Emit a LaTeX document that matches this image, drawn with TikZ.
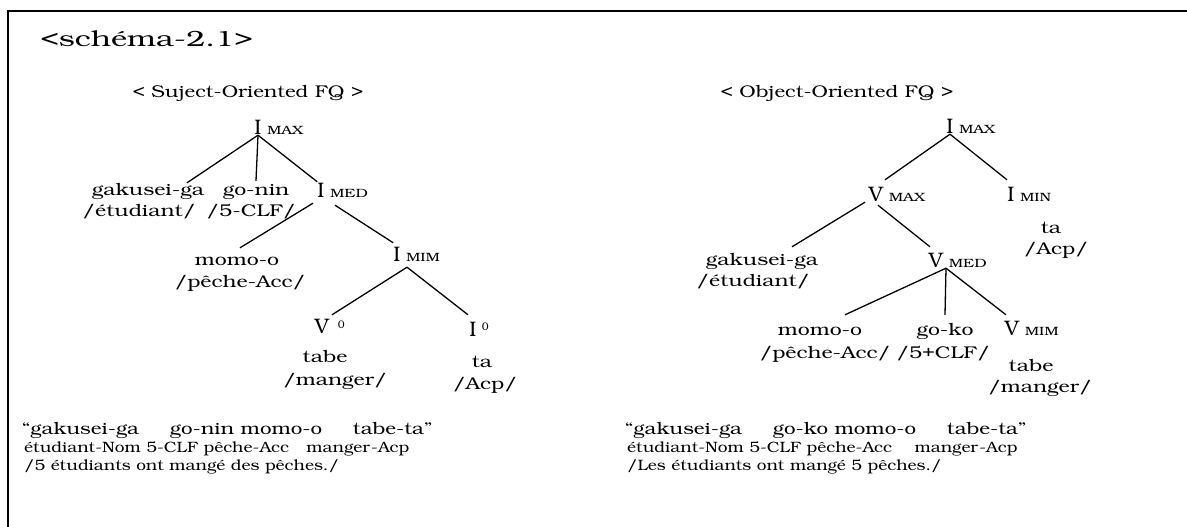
\documentclass[tikz,border=0pt]{standalone}
\usepackage[T1]{fontenc}
\usepackage{bookman}
\usetikzlibrary{calc}

\tikzset{
	cat/.style={inner sep=0pt, anchor=base, text height=15pt, text depth=1pt, font=\fontsize{21}{23}\selectfont},
	subcat/.style={inner sep=0pt, anchor=base west, xscale=1.3, font=\fontsize{12}{14}\selectfont},
	supzero/.style={inner sep=0pt, anchor=base west, font=\fontsize{11}{13}\selectfont},
	word/.style={inner sep=0pt, anchor=base, xscale=1.25, text height=12pt, text depth=4pt, font=\fontsize{17}{19}\selectfont},
	heading/.style={inner sep=0pt, anchor=base, xscale=1.2, font=\fontsize{17}{19}\selectfont},
	sentence/.style={inner sep=0pt, anchor=base west, xscale=1.21, font=\fontsize{17}{19}\selectfont},
	glossline/.style={inner sep=0pt, anchor=base west, xscale=1.15, font=\fontsize{15}{17}\selectfont},
	branch/.style={line width=1.3pt},
}
\def\category(#1)(#2)#3#4{\node[cat] (#1) at (#2) {#3}; \node[subcat] (#1-s) at ([xshift=5pt]#1.base east) {#4};}

\begin{document}
\begin{tikzpicture}[x=1pt, y=-1pt]
			%%%%% START %%%%%
			\useasboundingbox (0, 0) rectangle (1187, 527);
			\draw[line width=2pt] (8, 527) -- (8, 11) -- (1187, 11);
			
			\node[inner sep=0pt, anchor=base west, xscale=1.4, font=\fontsize{22}{24}\selectfont] (schema) at (40, 47) {<schéma-2.1>};
			
			%% subject-oriented tree
			\node[heading] (titleL) at (248, 98) {< Suject-Oriented FQ >};
			
			\category(imaxL)(258, 134){I}{MAX}
			\node[word] (gakuL) at (148, 195) {gakusei-ga};
			\node[word] (gakuLg) at (139, 216) {/étudiant/};
			\node[word] (goninL) at (256, 195) {go-nin};
			\node[word] (goninLg) at (251, 216) {/5-CLF/};
			\category(imedL)(321, 197){I}{MED}
			\node[word] (momoL) at (237, 265) {momo-o};
			\node[word] (momoLg) at (240, 287) {/pêche-Acc/};
			\category(imimL)(397, 261){I}{MIM}
			\node[cat] (v0L) at (322, 333) {V};
			\node[supzero] (v0Ls) at ([xshift=8pt, yshift=5pt]v0L.base east) {0};
			\node[word] (tabeL) at (325, 362) {tabe};
			\node[word] (tabeLg) at (335, 385) {/manger/};
			\node[cat] (i0L) at (473, 336) {I};
			\node[supzero] (i0Ls) at ([xshift=5pt, yshift=6pt]i0L.base east) {0};
			\node[word] (taL) at (482, 367) {ta};
			\node[word] (taLg) at (485, 389) {/Acp/};
			
			\draw[branch] (imaxL.south) -- ([xshift=39pt]gakuL.north);
			\draw[branch] (imaxL.south) -- ([yshift=2pt]goninL.north);
			\draw[branch] (imaxL.south) -- (imedL.north west);
			\draw[branch] ([xshift=-8pt, yshift=-5pt]imedL.south) -- ([xshift=3pt, yshift=5pt]momoL.north);
			\draw[branch] ([xshift=14pt, yshift=-7pt]imedL.south) -- ([yshift=3pt]imimL.north west);
			\draw[branch] ([xshift=10pt, yshift=-5pt]imimL.south) -- ([xshift=10pt, yshift=3pt]v0L.north);
			\draw[branch] ([xshift=10pt, yshift=-5pt]imimL.south) -- ([xshift=-5pt, yshift=6pt]i0L.north);
			
			%% object-oriented tree
			\node[heading] (titleR) at (837, 98) {< Object-Oriented FQ >};
			
			\category(imaxR)(950, 133){I}{MAX}
			\category(vmaxR)(876, 201){V}{MAX}
			\category(iminR)(1011, 201){I}{MIN}
			\node[word] (taR) at (1051, 233) {ta};
			\node[word] (taRg) at (1056, 254) {/Acp/};
			\node[word] (gakuR) at (762, 265) {gakusei-ga};
			\node[word] (gakuRg) at (753, 286) {/étudiant/};
			\category(vmedR)(936, 267){V}{MED}
			\node[word] (momoR) at (820, 335) {momo-o};
			\node[word] (momoRg) at (825, 358) {/pêche-Acc/};
			\node[word] (gokoR) at (945, 335) {go-ko};
			\node[word] (gokoRg) at (943, 358) {/5+CLF/};
			\category(vmimR)(1012, 335){V}{MIM}
			\node[word] (tabeR) at (1031, 371) {tabe};
			\node[word] (tabeRg) at (1040, 392) {/manger/};
			
			\draw[branch] (imaxR.south) -- ([xshift=9pt, yshift=6pt]vmaxR.north);
			\draw[branch] (imaxR.south) -- ([xshift=-4pt, yshift=6pt]iminR.north);
			\draw[branch] ([xshift=-11pt]vmaxR.south) -- ([xshift=30pt, yshift=6pt]gakuR.north);
			\draw[branch] ([xshift=2pt, yshift=-3pt]vmaxR.south) -- ([xshift=-6pt, yshift=5pt]vmedR.north);
			\draw[branch] ([xshift=10pt]vmedR.south) -- ([xshift=25pt, yshift=8pt]momoR.north);
			\draw[branch] ([xshift=10pt]vmedR.south) -- ([yshift=8pt]gokoR.north);
			\draw[branch] ([xshift=10pt]vmedR.south) -- ([xshift=-6pt, yshift=5pt]vmimR.north);
			
			%% example sentences
			\node[sentence] (sentL) at (22, 434) {``gakusei-ga\hspace{1.5em}go-nin momo-o\hspace{1.5em}tabe-ta''};
			\node[glossline] (glossL) at (24, 452) {étudiant-Nom 5-CLF pêche-Acc\hspace{1em}manger-Acp};
			\node[glossline] (transL) at (24, 470) {/5 étudiants ont mangé des pêches./};
			
			\node[sentence] (sentR) at (625, 434) {``gakusei-ga\hspace{1.5em}go-ko momo-o\hspace{1.5em}tabe-ta''};
			\node[glossline] (glossR) at (627, 452) {étudiant-Nom 5-CLF pêche-Acc\hspace{1.3em}manger-Acp};
			\node[glossline] (transR) at (627, 470) {/Les étudiants ont mangé 5 pêches./};
			%%%%% END %%%%%
\end{tikzpicture}
\end{document}
